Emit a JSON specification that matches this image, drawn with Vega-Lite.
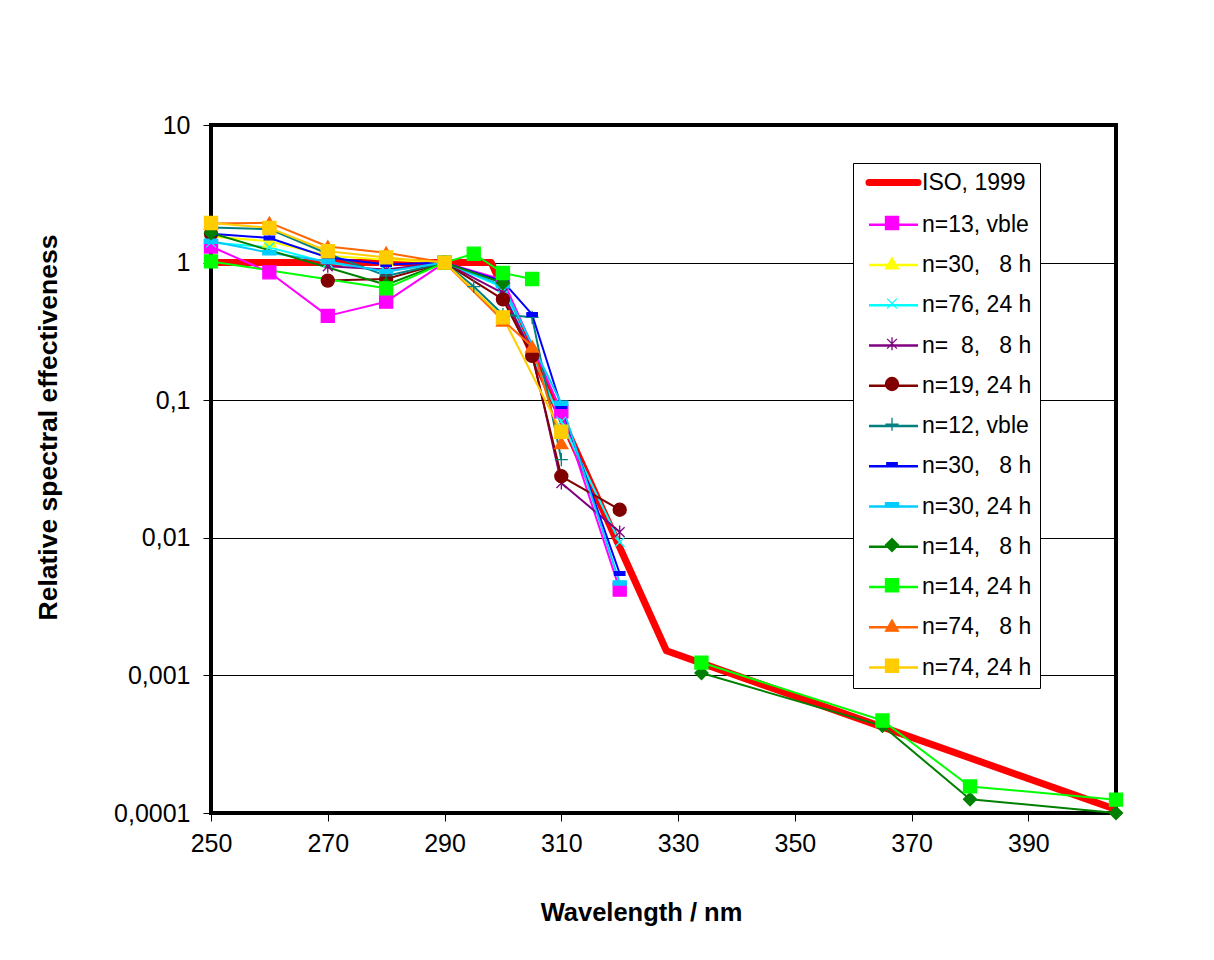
{
  "$schema": "https://vega.github.io/schema/vega-lite/v6.json",
  "width": 905,
  "height": 688,
  "autosize": {"type": "none"},
  "padding": {"left": 211, "top": 125, "right": 98, "bottom": 147},
  "background": "white",
  "config": {
    "font": "Liberation Sans",
    "view": {"stroke": "black", "strokeWidth": 4}
  },
  "datasets": {
    "iso": [
      {"series": "ISO, 1999", "wl": 250, "v": 1},
      {"series": "ISO, 1999", "wl": 298, "v": 1},
      {"series": "ISO, 1999", "wl": 328, "v": 0.00151},
      {"series": "ISO, 1999", "wl": 405, "v": 0.000106}
    ],
    "obs": [
      {"series": "n=13, vble", "wl": 250, "v": 1.31},
      {"series": "n=13, vble", "wl": 260, "v": 0.85},
      {"series": "n=13, vble", "wl": 270, "v": 0.41},
      {"series": "n=13, vble", "wl": 280, "v": 0.52},
      {"series": "n=13, vble", "wl": 290, "v": 1},
      {"series": "n=13, vble", "wl": 300, "v": 0.75},
      {"series": "n=13, vble", "wl": 310, "v": 0.083},
      {"series": "n=13, vble", "wl": 320, "v": 0.0042},

      {"series": "n=30,\u00a0\u00a0\u00a08 h", "wl": 250, "v": 1.55},
      {"series": "n=30,\u00a0\u00a0\u00a08 h", "wl": 260, "v": 1.43},
      {"series": "n=30,\u00a0\u00a0\u00a08 h", "wl": 270, "v": 1.12},
      {"series": "n=30,\u00a0\u00a0\u00a08 h", "wl": 280, "v": 1.05},
      {"series": "n=30,\u00a0\u00a0\u00a08 h", "wl": 290, "v": 1},

      {"series": "n=76, 24 h", "wl": 250, "v": 1.40},
      {"series": "n=76, 24 h", "wl": 260, "v": 1.29},
      {"series": "n=76, 24 h", "wl": 270, "v": 1.0},
      {"series": "n=76, 24 h", "wl": 280, "v": 0.86},
      {"series": "n=76, 24 h", "wl": 290, "v": 1},
      {"series": "n=76, 24 h", "wl": 300, "v": 0.66},
      {"series": "n=76, 24 h", "wl": 310, "v": 0.07},
      {"series": "n=76, 24 h", "wl": 320, "v": 0.0093},

      {"series": "n=\u00a0\u00a08,\u00a0\u00a0\u00a08 h", "wl": 270, "v": 0.94},
      {"series": "n=\u00a0\u00a08,\u00a0\u00a0\u00a08 h", "wl": 280, "v": 0.89},
      {"series": "n=\u00a0\u00a08,\u00a0\u00a0\u00a08 h", "wl": 290, "v": 1},
      {"series": "n=\u00a0\u00a08,\u00a0\u00a0\u00a08 h", "wl": 300, "v": 0.6},
      {"series": "n=\u00a0\u00a08,\u00a0\u00a0\u00a08 h", "wl": 305, "v": 0.22},
      {"series": "n=\u00a0\u00a08,\u00a0\u00a0\u00a08 h", "wl": 310, "v": 0.025},
      {"series": "n=\u00a0\u00a08,\u00a0\u00a0\u00a08 h", "wl": 320, "v": 0.011},

      {"series": "n=19, 24 h", "wl": 250, "v": 1.62, "seg": 0},
      {"series": "n=19, 24 h", "wl": 270, "v": 0.74},
      {"series": "n=19, 24 h", "wl": 280, "v": 0.76},
      {"series": "n=19, 24 h", "wl": 290, "v": 1},
      {"series": "n=19, 24 h", "wl": 300, "v": 0.54},
      {"series": "n=19, 24 h", "wl": 305, "v": 0.21},
      {"series": "n=19, 24 h", "wl": 310, "v": 0.028},
      {"series": "n=19, 24 h", "wl": 320, "v": 0.016},

      {"series": "n=12, vble", "wl": 250, "v": 1.8},
      {"series": "n=12, vble", "wl": 260, "v": 1.75},
      {"series": "n=12, vble", "wl": 270, "v": 1.16},
      {"series": "n=12, vble", "wl": 280, "v": 0.80},
      {"series": "n=12, vble", "wl": 290, "v": 1},
      {"series": "n=12, vble", "wl": 295, "v": 0.67},
      {"series": "n=12, vble", "wl": 300, "v": 0.42},
      {"series": "n=12, vble", "wl": 305, "v": 0.40},
      {"series": "n=12, vble", "wl": 310, "v": 0.037},

      {"series": "n=30,\u00a0\u00a0\u00a08 h\u200b", "wl": 250, "v": 1.62},
      {"series": "n=30,\u00a0\u00a0\u00a08 h\u200b", "wl": 260, "v": 1.51},
      {"series": "n=30,\u00a0\u00a0\u00a08 h\u200b", "wl": 270, "v": 1.09},
      {"series": "n=30,\u00a0\u00a0\u00a08 h\u200b", "wl": 280, "v": 0.97},
      {"series": "n=30,\u00a0\u00a0\u00a08 h\u200b", "wl": 290, "v": 1},
      {"series": "n=30,\u00a0\u00a0\u00a08 h\u200b", "wl": 300, "v": 0.73},
      {"series": "n=30,\u00a0\u00a0\u00a08 h\u200b", "wl": 305, "v": 0.42},
      {"series": "n=30,\u00a0\u00a0\u00a08 h\u200b", "wl": 310, "v": 0.09},
      {"series": "n=30,\u00a0\u00a0\u00a08 h\u200b", "wl": 320, "v": 0.0055},

      {"series": "n=30, 24 h", "wl": 250, "v": 1.43},
      {"series": "n=30, 24 h", "wl": 260, "v": 1.18},
      {"series": "n=30, 24 h", "wl": 270, "v": 1.02},
      {"series": "n=30, 24 h", "wl": 280, "v": 0.86},
      {"series": "n=30, 24 h", "wl": 290, "v": 1},
      {"series": "n=30, 24 h", "wl": 300, "v": 0.68},
      {"series": "n=30, 24 h", "wl": 310, "v": 0.095},
      {"series": "n=30, 24 h", "wl": 320, "v": 0.0047},

      {"series": "n=14,\u00a0\u00a0\u00a08 h", "wl": 250, "v": 1.64},
      {"series": "n=14,\u00a0\u00a0\u00a08 h", "wl": 280, "v": 0.69},
      {"series": "n=14,\u00a0\u00a0\u00a08 h", "wl": 290, "v": 1},
      {"series": "n=14,\u00a0\u00a0\u00a08 h", "wl": 300, "v": 0.71},
      {"series": "n=14,\u00a0\u00a0\u00a08 h", "wl": 334, "v": 0.00104, "seg": 2},
      {"series": "n=14,\u00a0\u00a0\u00a08 h", "wl": 365, "v": 0.00043, "seg": 2},
      {"series": "n=14,\u00a0\u00a0\u00a08 h", "wl": 380, "v": 0.000126, "seg": 2},
      {"series": "n=14,\u00a0\u00a0\u00a08 h", "wl": 405, "v": 0.0001, "seg": 2},

      {"series": "n=14, 24 h", "wl": 250, "v": 1.02},
      {"series": "n=14, 24 h", "wl": 280, "v": 0.65},
      {"series": "n=14, 24 h", "wl": 290, "v": 1},
      {"series": "n=14, 24 h", "wl": 295, "v": 1.16},
      {"series": "n=14, 24 h", "wl": 300, "v": 0.84},
      {"series": "n=14, 24 h", "wl": 305, "v": 0.76},
      {"series": "n=14, 24 h", "wl": 334, "v": 0.00124, "seg": 2},
      {"series": "n=14, 24 h", "wl": 365, "v": 0.00047, "seg": 2},
      {"series": "n=14, 24 h", "wl": 380, "v": 0.000156, "seg": 2},
      {"series": "n=14, 24 h", "wl": 405, "v": 0.000125, "seg": 2},

      {"series": "n=74,\u00a0\u00a0\u00a08 h", "wl": 250, "v": 1.92},
      {"series": "n=74,\u00a0\u00a0\u00a08 h", "wl": 260, "v": 1.95},
      {"series": "n=74,\u00a0\u00a0\u00a08 h", "wl": 270, "v": 1.31},
      {"series": "n=74,\u00a0\u00a0\u00a08 h", "wl": 280, "v": 1.18},
      {"series": "n=74,\u00a0\u00a0\u00a08 h", "wl": 290, "v": 1},
      {"series": "n=74,\u00a0\u00a0\u00a08 h", "wl": 300, "v": 0.38},
      {"series": "n=74,\u00a0\u00a0\u00a08 h", "wl": 305, "v": 0.246},
      {"series": "n=74,\u00a0\u00a0\u00a08 h", "wl": 310, "v": 0.049},

      {"series": "n=74, 24 h", "wl": 250, "v": 1.94},
      {"series": "n=74, 24 h", "wl": 260, "v": 1.79},
      {"series": "n=74, 24 h", "wl": 270, "v": 1.21},
      {"series": "n=74, 24 h", "wl": 280, "v": 1.09},
      {"series": "n=74, 24 h", "wl": 290, "v": 1},
      {"series": "n=74, 24 h", "wl": 300, "v": 0.40},
      {"series": "n=74, 24 h", "wl": 310, "v": 0.059}
    ]
  },
  "encoding": {
    "x": {
      "field": "wl", "type": "quantitative",
      "scale": {"domain": [250, 405], "nice": false, "zero": false},
      "axis": {
        "values": [250, 270, 290, 310, 330, 350, 370, 390],
        "grid": false, "domain": false,
        "tickColor": "black", "tickSize": 8, "tickWidth": 1,
        "labelFont": "Liberation Sans", "labelFontSize": 25, "labelColor": "black",
        "labelPadding": 10, "labelFlush": false, "labelOverlap": false,
        "title": "Wavelength / nm",
        "titleFont": "Liberation Sans", "titleFontSize": 25.5, "titleFontWeight": "bold", "titleColor": "black",
        "titleX": 430, "titleY": 99, "titleBaseline": "middle", "titleAlign": "center"
      }
    },
    "y": {
      "field": "v", "type": "quantitative",
      "scale": {"type": "log", "domain": [0.0001, 10], "nice": false},
      "axis": {
        "values": [0.0001, 0.001, 0.01, 0.1, 1, 10],
        "labelExpr": "replace(format(datum.value, '~f'), '.', ',')",
        "grid": true, "gridColor": "black", "gridWidth": 1, "gridOpacity": 1,
        "domain": false,
        "tickColor": "black", "tickSize": 8, "tickWidth": 1,
        "labelFont": "Liberation Sans", "labelFontSize": 25, "labelColor": "black",
        "labelPadding": 13, "labelOverlap": false, "labelFlush": false,
        "title": "Relative spectral effectiveness",
        "titleFont": "Liberation Sans", "titleFontSize": 26.5, "titleFontWeight": "bold", "titleColor": "black",
        "titleX": -163, "titleY": 302, "titleAngle": -90, "titleBaseline": "middle", "titleAlign": "center"
      }
    }
  },
  "layer": [
    {
      "data": {"name": "iso"},
      "mark": {"type": "line", "strokeWidth": 7, "strokeJoin": "round", "strokeCap": "butt"},
      "encoding": {
        "color": {
          "field": "series", "type": "nominal",
          "scale": {
            "domain": ["ISO, 1999", "n=13, vble", "n=30,\u00a0\u00a0\u00a08 h", "n=76, 24 h", "n=\u00a0\u00a08,\u00a0\u00a0\u00a08 h", "n=19, 24 h", "n=12, vble", "n=30,\u00a0\u00a0\u00a08 h\u200b", "n=30, 24 h", "n=14,\u00a0\u00a0\u00a08 h", "n=14, 24 h", "n=74,\u00a0\u00a0\u00a08 h", "n=74, 24 h"],
            "range": ["#FF0000", "#FF00FF", "#FFFF00", "#00FFFF", "#800080", "#800000", "#008080", "#0000FF", "#00CCFF", "#008000", "#00FF00", "#FF6600", "#FFCC00"]
          },
          "legend": {
            "orient": "none", "legendX": 642, "legendY": 38,
            "title": null,
            "symbolType": "stroke", "symbolSize": 2401, "symbolStrokeWidth": 2.5,
            "symbolOffset": 21,
            "labelFont": "Liberation Sans", "labelFontSize": 23, "labelColor": "black",
            "labelOffset": 17, "labelLimit": 300,
            "labelExpr": "datum.label + '\u00a0\u00a0\u00a0\u00a0\u00a0'",
            "padding": 8, "rowPadding": 16.25,
            "strokeColor": "black", "fillColor": "white",
            "encode": {
              "symbols": {
                "update": {
                  "strokeWidth": {"signal": "datum.value === 'ISO, 1999' ? 7 : 2.5"},
                  "strokeCap": {"signal": "datum.value === 'ISO, 1999' ? 'round' : 'butt'"}
                }
              }
            }
          }
        }
      }
    },
    {
      "data": {"name": "obs"},
      "mark": {"type": "line", "strokeWidth": 2, "strokeJoin": "round"},
      "encoding": {
        "color": {"field": "series", "type": "nominal"},
        "detail": {"field": "seg", "type": "nominal"}
      }
    },
    {
      "data": {"name": "obs"},
      "mark": {"type": "point", "filled": true, "size": 170, "strokeWidth": 1.3, "opacity": 1, "fillOpacity": 1},
      "encoding": {
        "fill": {
          "field": "series", "type": "nominal",
          "scale": {
            "domain": ["n=13, vble", "n=30,\u00a0\u00a0\u00a08 h", "n=76, 24 h", "n=\u00a0\u00a08,\u00a0\u00a0\u00a08 h", "n=19, 24 h", "n=12, vble", "n=30,\u00a0\u00a0\u00a08 h\u200b", "n=30, 24 h", "n=14,\u00a0\u00a0\u00a08 h", "n=14, 24 h", "n=74,\u00a0\u00a0\u00a08 h", "n=74, 24 h"],
            "range": ["#FF00FF", "#FFFF00", "#00FFFF", "#800080", "#800000", "#008080", "#0000FF", "#00CCFF", "#008000", "#00FF00", "#FF6600", "#FFCC00"]
          },
          "legend": {
            "orient": "none", "legendX": 661.5, "legendY": 78.5,
            "title": null,
            "symbolSize": 170, "symbolStrokeWidth": 1.3,
            "labelFont": "Liberation Sans", "labelFontSize": 23, "labelExpr": "''",
            "labelOffset": 4, "labelLimit": 300,
            "padding": 8, "rowPadding": 16.25
          }
        },
        "stroke": {
          "field": "series", "type": "nominal",
          "scale": {
            "domain": ["n=13, vble", "n=30,\u00a0\u00a0\u00a08 h", "n=76, 24 h", "n=\u00a0\u00a08,\u00a0\u00a0\u00a08 h", "n=19, 24 h", "n=12, vble", "n=30,\u00a0\u00a0\u00a08 h\u200b", "n=30, 24 h", "n=14,\u00a0\u00a0\u00a08 h", "n=14, 24 h", "n=74,\u00a0\u00a0\u00a08 h", "n=74, 24 h"],
            "range": ["#FF00FF", "#FFFF00", "#00FFFF", "#800080", "#800000", "#008080", "#0000FF", "#00CCFF", "#008000", "#00FF00", "#FF6600", "#FFCC00"]
          },
          "legend": {
            "orient": "none", "legendX": 661.5, "legendY": 78.5,
            "title": null,
            "symbolSize": 170, "symbolStrokeWidth": 1.3,
            "labelFont": "Liberation Sans", "labelFontSize": 23, "labelExpr": "''",
            "labelOffset": 4, "labelLimit": 300,
            "padding": 8, "rowPadding": 16.25
          }
        },
        "shape": {
          "field": "series", "type": "nominal",
          "scale": {
            "domain": ["n=13, vble", "n=30,\u00a0\u00a0\u00a08 h", "n=76, 24 h", "n=\u00a0\u00a08,\u00a0\u00a0\u00a08 h", "n=19, 24 h", "n=12, vble", "n=30,\u00a0\u00a0\u00a08 h\u200b", "n=30, 24 h", "n=14,\u00a0\u00a0\u00a08 h", "n=14, 24 h", "n=74,\u00a0\u00a0\u00a08 h", "n=74, 24 h"],
            "range": [
              "square",
              "triangle-up",
              "M-0.75,-0.75L0.75,0.75M-0.75,0.75L0.75,-0.75",
              "M-0.75,-0.75L0.75,0.75M-0.75,0.75L0.75,-0.75M0,-1L0,1",
              "circle",
              "M-1,0L1,0M0,-1L0,1",
              "M-0.8,-0.28L0.8,-0.28L0.8,0.28L-0.8,0.28Z",
              "M-1,-0.32L1,-0.32L1,0.32L-1,0.32Z",
              "diamond",
              "square",
              "triangle-up",
              "square"
            ]
          },
          "legend": {
            "orient": "none", "legendX": 661.5, "legendY": 78.5,
            "title": null,
            "symbolSize": 170, "symbolStrokeWidth": 1.3,
            "labelFont": "Liberation Sans", "labelFontSize": 23, "labelExpr": "''",
            "labelOffset": 4, "labelLimit": 300,
            "padding": 8, "rowPadding": 16.25
          }
        }
      }
    }
  ]
}
